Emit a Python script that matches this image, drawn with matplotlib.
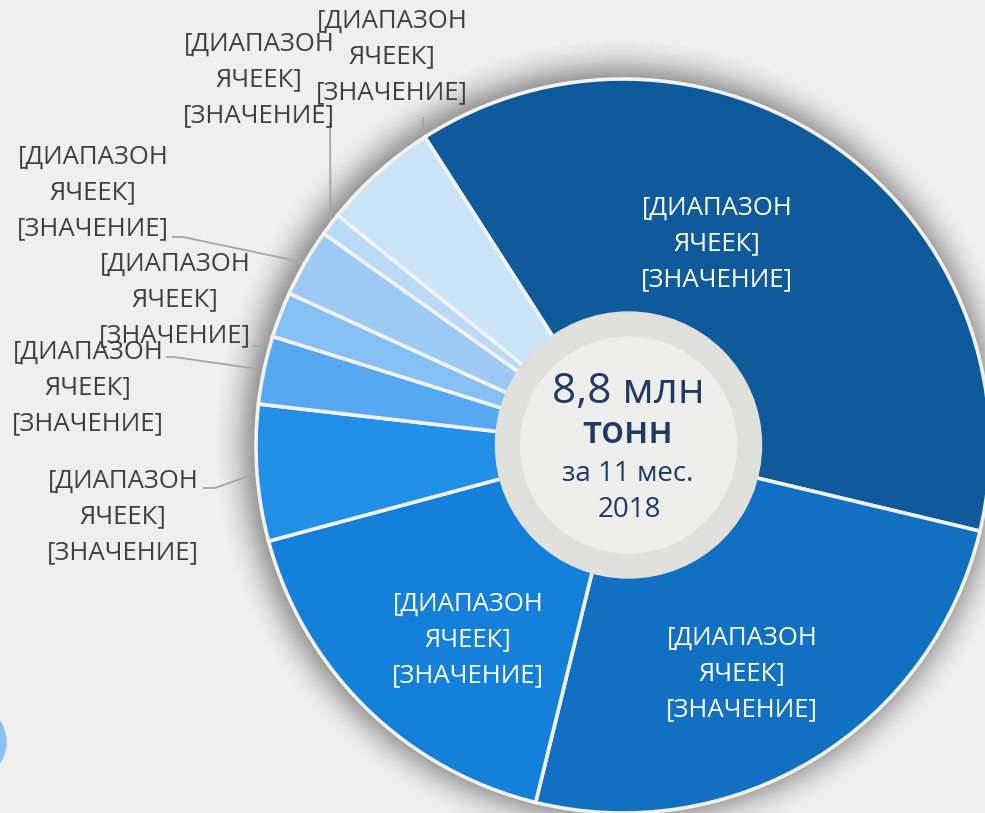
import numpy as np
import matplotlib
matplotlib.use("Agg")
import matplotlib.pyplot as plt
from matplotlib.patches import Circle

plt.rcParams['font.family'] = ['Open Sans', 'DejaVu Sans']

# ---- data (shares, %; total 8,8 млн тонн) ----
labels = ["[ДИАПАЗОН\nЯЧЕЕК]\n[ЗНАЧЕНИЕ]"] * 9
values = [37.8, 25.1, 17.0, 6.0, 3.0, 2.0, 3.0, 1.0, 5.1]
colors = ["#0f5a9b", "#1170c1", "#1480da", "#2390e8", "#56a9f1",
          "#85c0f5", "#9dcbf5", "#b9dbf7", "#cbe5f8"]
center_lines = ["8,8 млн", "тонн", "за 11 мес.", "2018"]

W, H = 985, 813
fig = plt.figure(figsize=(W / 100, H / 100), dpi=100)
fig.patch.set_facecolor("#efefef")
ax = fig.add_axes([0, 0, 1, 1])
ax.set_facecolor("#efefef")

def P(x, y):  # pixel (y down) -> axes coords (y up)
    return x, H - y

cx, cy = P(623, 446)
R = 367
start = 122.67

# background decoration: blue disc at bottom-left edge
ax.add_patch(Circle(P(-32, 742), 38, color="#86c2f6", zorder=1))

# soft shadow around donut (smooth falloff)
n_sh = 40
for k in range(n_sh):
    ax.add_patch(Circle((cx - 3, cy + 2), R + 40 - k, color="black",
                        alpha=0.0008 + 0.0004 * k, lw=0, zorder=2))

wedges, _ = ax.pie(values, colors=colors, startangle=start, counterclock=False,
                   center=(cx, cy), radius=R,
                   wedgeprops=dict(width=R - 115, edgecolor="#f2f2f2",
                                   linewidth=2.6), normalize=True, frame=True)
for w in wedges:
    w.set_zorder(3)

# centre disc
gx, gy = P(628.5, 445)
ax.add_patch(Circle((gx, gy), 133, color="#e0e0dd", zorder=4))
ax.add_patch(Circle((gx, gy), 108, color="#eeeeec", zorder=5))

navy = "#1f3a63"
ax.text(*P(628, 392), center_lines[0], ha="center", va="center",
        fontsize=30.5, color=navy, zorder=6)
ax.text(*P(628, 433), center_lines[1], ha="center", va="center",
        fontsize=27, color=navy, fontweight="semibold", zorder=6)
ax.text(*P(628, 474), center_lines[2], ha="center", va="center",
        fontsize=20, color=navy, zorder=6)
ax.text(*P(629, 510), center_lines[3], ha="center", va="center",
        fontsize=20, color=navy, zorder=6)

# angles of wedge mid-points
cum = np.cumsum([0] + values)
tot = sum(values)
mids = [start - 360 * (cum[i] + values[i] / 2) / tot for i in range(len(values))]

def edge_point(i):
    a = np.deg2rad(mids[i])
    return cx + R * np.cos(a), cy + R * np.sin(a)

fs = 18.5
ls = 1.56
# labels inside big wedges (white)
inside_pos = {0: (717, 244), 1: (742, 674), 2: (468, 640)}
for i, (x, y) in inside_pos.items():
    ax.text(*P(x, y), labels[i], ha="center", va="center", fontsize=fs,
            color="white", linespacing=ls, zorder=6)

# outside labels with leader lines
outside = {
    8: ((392, 57), [(423, 117), (423, 128)]),
    7: ((259, 80), [(330, 122)]),
    6: ((93, 193), [(172, 237), (183, 237)]),
    5: ((175, 300), [(253, 346), (265, 346)]),
    4: ((88, 388), [(166, 357), (174, 357)]),
    3: ((123, 517), [(203, 488), (215, 488)]),
}
for i, ((x, y), pts) in outside.items():
    ax.text(*P(x, y), labels[i], ha="center", va="center", fontsize=fs,
            color="#404040", linespacing=ls, zorder=7)
    xs = [P(px, py)[0] for px, py in pts]
    ys = [P(px, py)[1] for px, py in pts]
    ex, ey = edge_point(i)
    xs.append(ex); ys.append(ey)
    ax.plot(xs, ys, color="#a6a6a6", lw=1.3, zorder=2.5, solid_capstyle="butt")

ax.set_xlim(0, W)
ax.set_ylim(0, H)
ax.set_aspect("equal")
ax.axis("off")
fig.savefig("out.png", dpi=100, facecolor=fig.get_facecolor())
